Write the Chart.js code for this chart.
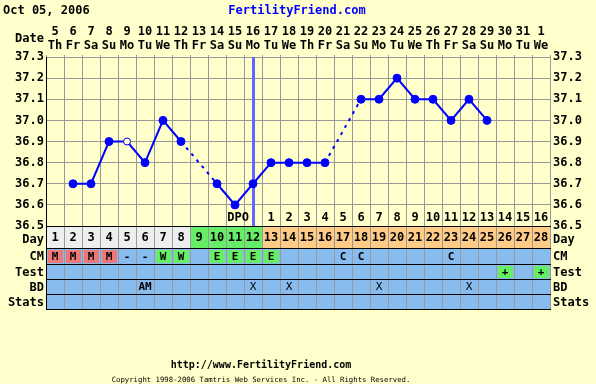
<!DOCTYPE html>
<html><head><meta charset="utf-8">
<script src="https://cdn.jsdelivr.net/npm/chart.js@4"></script>
<style>html,body{margin:0;padding:0;background:#FFFFCC;overflow:hidden}canvas{display:block}</style>
</head><body>
<canvas id="c" width="596" height="384"></canvas>
<script>
// ---- data ----
const chartDate = 'Oct 05, 2006';
const siteName = 'FertilityFriend.com';
const footerUrl = 'http://www.FertilityFriend.com';
const footerCopyright = 'Copyright 1998-2006 Tamtris Web Services Inc. - All Rights Reserved.';
const dateLabels = ['5','6','7','8','9','10','11','12','13','14','15','16','17','18','19','20','21','22','23','24','25','26','27','28','29','30','31','1'];
const weekdayLabels = ['Th','Fr','Sa','Su','Mo','Tu','We','Th','Fr','Sa','Su','Mo','Tu','We','Th','Fr','Sa','Su','Mo','Tu','We','Th','Fr','Sa','Su','Mo','Tu','We'];
const cycleDays = ['1','2','3','4','5','6','7','8','9','10','11','12','13','14','15','16','17','18','19','20','21','22','23','24','25','26','27','28'];
const dayPhases = ['pre','pre','pre','pre','pre','pre','pre','pre','fertile','fertile','fertile','fertile','luteal','luteal','luteal','luteal','luteal','luteal','luteal','luteal','luteal','luteal','luteal','luteal','luteal','luteal','luteal','luteal'];
const temperatures = [null,36.7,36.7,36.9,36.9,36.8,37.0,36.9,null,36.7,36.6,36.7,36.8,36.8,36.8,36.8,null,37.1,37.1,37.2,37.1,37.1,37.0,37.1,37.0,null,null,null];
const discardedDays = ['5'];
const ovulationDay = '12';
const dpoLabels = ['','','','','','','','','','','','DPO','1','2','3','4','5','6','7','8','9','10','11','12','13','14','15','16'];
const cmValues = ['M','M','M','M','-','-','W','W','','E','E','E','E','','','','C','C','','','','','C','','','','',''];
const testValues = ['','','','','','','','','','','','','','','','','','','','','','','','','','+','','+'];
const bdValues = ['','','','','','AM','','','','','','X','','X','','','','','X','','','','','X','','','',''];
const statsValues = ['','','','','','','','','','','','','','','','','','','','','','','','','','','',''];
const rowNames = ['Day','CM','Test','BD','Stats'];
const tempMin = 36.5, tempMax = 37.3, tempStep = 0.1;

// ---- styles ----
const FONT = "'DejaVu Sans Mono', monospace";
const BG = '#FFFFCC', GRID = '#999999', BLUE = '#0000FF';
const phaseColor = {pre:'#EEEEEE', fertile:'#66EE66', luteal:'#FFCC88'};
const rowBlue = '#88BBEE';
const cmColor = {M:'#EE7777', W:'#66EE66', E:'#66EE66'};
const testColor = {'+':'#66EE66'};
const rowHeights = [22,16,15,15,15];

Chart.defaults.font.family = FONT;
Chart.defaults.color = '#000';

const decor = {
  id:'decor',
  beforeDraw(chart){
    const c = chart.ctx; c.save(); c.fillStyle = BG; c.fillRect(0,0,chart.width,chart.height); c.restore();
  },
  beforeDatasetsDraw(chart){
    const c = chart.ctx, a = chart.chartArea, x = chart.scales.x;
    const cx = Math.round(x.getPixelForValue(cycleDays.indexOf(ovulationDay)));
    c.save();
    c.fillStyle = '#6666FF';
    c.fillRect(cx-1, a.top, 3, a.bottom-a.top);
    c.restore();
  },
  afterDraw(chart){
    const c = chart.ctx, a = chart.chartArea, x = chart.scales.x;
    const n = cycleDays.length;
    const half = (x.getPixelForValue(1)-x.getPixelForValue(0))/2;
    c.save();
    // DPO labels
    c.font = "bold 12px "+FONT; c.fillStyle = '#000'; c.textBaseline='middle';
    dpoLabels.forEach((t,i)=>{
      if(!t) return;
      if(t==='DPO'){ c.textAlign='right'; c.fillText(t, x.getPixelForValue(i)-4, a.bottom-8); }
      else { c.textAlign='center'; c.fillText(t, x.getPixelForValue(i), a.bottom-8); }
    });
    // table
    const edges=[a.bottom]; rowHeights.forEach(h=>edges.push(edges[edges.length-1]+h));
    const rows=[cycleDays, cmValues, testValues, bdValues, statsValues];
    for(let r=0;r<rows.length;r++){
      const y0=edges[r], y1=edges[r+1];
      for(let i=0;i<n;i++){
        const l = x.getPixelForValue(i)-half;
        if(r===0){ c.fillStyle = phaseColor[dayPhases[i]]; c.fillRect(l,y0,2*half,y1-y0); }
        else {
          c.fillStyle = rowBlue; c.fillRect(l,y0,2*half,y1-y0);
          const v = rows[r][i];
          const hl = r===1 ? cmColor[v] : (r===2 ? testColor[v] : null);
          if(hl){ c.fillStyle = hl; c.fillRect(l+2,y0+2,2*half-3,y1-y0-3); }
        }
      }
    }
    // vertical grid lines in table
    c.strokeStyle = GRID; c.lineWidth = 1;
    for(let i=1;i<=n;i++){
      const xx = Math.round(x.getPixelForValue(i-1)+half)+0.5;
      c.beginPath(); c.moveTo(xx,edges[0]); c.lineTo(xx,edges[edges.length-1]); c.stroke();
    }
    // horizontal black lines
    c.strokeStyle = '#000';
    edges.forEach(e=>{ c.beginPath(); c.moveTo(a.left, e+0.5); c.lineTo(a.right+1, e+0.5); c.stroke(); });
    // left border
    c.beginPath(); c.moveTo(a.left+0.5, a.top); c.lineTo(a.left+0.5, edges[edges.length-1]+1); c.stroke();
    // cell texts
    c.fillStyle='#000'; c.textAlign='center'; c.textBaseline='middle';
    for(let r=0;r<rows.length;r++){
      const yc=(edges[r]+edges[r+1])/2+1;
      rows[r].forEach((t,i)=>{ if(t){ c.font = (t==='X') ? "11px "+FONT : (r===0 ? "bold 12px "+FONT : "bold 11px "+FONT); c.fillText(t, x.getPixelForValue(i), yc); } });
    }
    // row labels
    c.font = "bold 12px "+FONT;
    rowNames.forEach((t,r)=>{
      const yc=(edges[r]+edges[r+1])/2+1;
      c.textAlign='right'; c.fillText(t, a.left-2, r===0? yc+2 : yc);
      c.textAlign='left'; c.fillText(t, a.right+3, r===0? yc+2 : yc);
    });
    // Date label
    c.textAlign='right'; c.fillText('Date', a.left-2, 39);
    // title
    c.textAlign='left'; c.fillText(chartDate, 3, 11);
    c.textAlign='center'; c.fillStyle = BLUE; c.fillText(siteName, 297, 11);
    // footer
    c.fillStyle='#000'; c.font="bold 10px "+FONT; c.fillText(footerUrl, 261, 365);
    c.font="7.3px "+FONT; c.fillText(footerCopyright, 261, 380);
    c.restore();
  }
};

const isOpen = ctx => discardedDays.includes(cycleDays[ctx.dataIndex]);
const skipped = (ctx, v) => (ctx.p0.skip || ctx.p1.skip) ? v : undefined;
const tickFont = {family:FONT, size:12, weight:'bold', lineHeight:1.1};

new Chart(document.getElementById('c'), {
  type:'line',
  data:{
    labels: dateLabels.map((d,i)=>[d, weekdayLabels[i]]),
    datasets:[{
      data: temperatures,
      borderColor: BLUE, borderWidth: 2,
      spanGaps: true,
      segment: { borderDash: ctx => skipped(ctx,[3,5]) },
      pointRadius: ctx => isOpen(ctx) ? 3.5 : 4,
      pointBorderWidth: 1,
      pointBorderColor: BLUE,
      pointBackgroundColor: ctx => isOpen(ctx) ? BG : BLUE,
      yAxisID:'y'
    }]
  },
  options:{
    responsive:false, devicePixelRatio:1, animation:false, events:[],
    layout:{padding:{top:0,left:0,right:0,bottom:158}},
    plugins:{legend:{display:false}, tooltip:{enabled:false}},
    scales:{
      x:{position:'top', offset:true,
        grid:{offset:true, color:GRID, drawTicks:true, tickLength:2},
        border:{color:GRID},
        ticks:{autoSkip:false, maxRotation:0, minRotation:0, padding:3, color:'#000', font:tickFont},
        afterFit(s){ s.height = 57; }},
      y:{position:'left', min:tempMin, max:tempMax,
        ticks:{stepSize:tempStep, padding:2, color:'#000', font:tickFont, callback:v=>v.toFixed(1)},
        grid:{color:GRID, drawTicks:false},
        border:{color:'#000'},
        afterFit(s){ s.width = 46; }},
      y2:{position:'right', min:tempMin, max:tempMax,
        ticks:{stepSize:tempStep, padding:3, color:'#000', font:tickFont, callback:v=>v.toFixed(1)},
        grid:{drawOnChartArea:false, drawTicks:false},
        border:{color:GRID},
        afterFit(s){ s.width = 46; }}
    }
  },
  plugins:[decor]
});
</script>
</body></html>
